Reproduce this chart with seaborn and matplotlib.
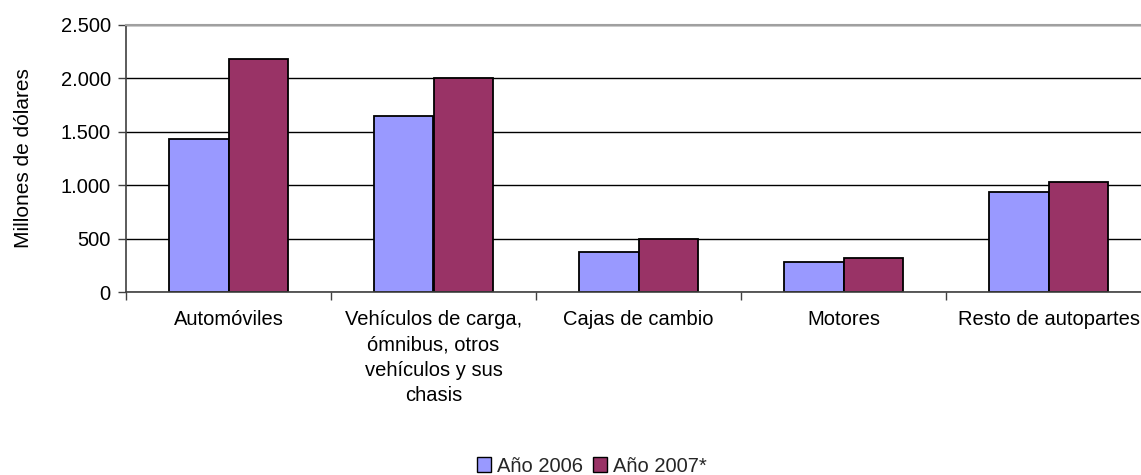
import matplotlib
matplotlib.use("Agg")
import matplotlib.pyplot as plt
import seaborn as sns
import pandas as pd
from matplotlib.ticker import FuncFormatter, FixedLocator
from matplotlib.patches import Patch

categories = ["Automóviles",
              "Vehículos de carga,\nómnibus, otros\nvehículos y sus\nchasis",
              "Cajas de cambio", "Motores", "Resto de autopartes"]
series_names = ["Año 2006", "Año 2007*"]
values_2006 = [1434, 1647, 375, 285, 940]
values_2007 = [2178, 2003, 498, 320, 1030]
colors = ["#9999FF", "#993366"]

df = pd.DataFrame({
    "cat": categories * 2,
    "serie": [series_names[0]] * 5 + [series_names[1]] * 5,
    "valor": values_2006 + values_2007,
})

sns.set_theme(style="white")
plt.rcParams["font.family"] = ["Liberation Sans", "DejaVu Sans"]

FS = 14.5

fig = plt.figure(figsize=(11.41, 4.75), dpi=100)
ax = fig.add_axes([126/1141, (475-292)/475, 1025/1141, 267/475])

sns.barplot(data=df, x="cat", y="valor", hue="serie", palette=colors,
            width=0.58, edgecolor="black", linewidth=1.3, ax=ax,
            legend=False, saturation=1, gap=0)

ax.set_ylim(0, 2500)
ax.set_xlim(-0.5, 4.5)
ax.set_yticks([0, 500, 1000, 1500, 2000, 2500])
ax.yaxis.set_major_formatter(FuncFormatter(lambda v, p: f"{int(v):,}".replace(",", ".")))
ax.yaxis.grid(True, color="black", linewidth=1.0)
ax.set_axisbelow(True)

ax.xaxis.set_minor_locator(FixedLocator([-0.5, 0.5, 1.5, 2.5, 3.5]))
ax.tick_params(axis="x", which="major", length=0, pad=13, labelsize=FS, colors="black")
ax.tick_params(axis="x", which="minor", length=6, width=1, color="#404040", bottom=True)
ax.tick_params(axis="y", which="major", length=6, width=1, color="#404040", left=True,
               labelsize=FS, pad=5, colors="black")
for lab in ax.get_xticklabels():
    lab.set_linespacing(1.42)

ax.set_xlabel("")
ax.set_ylabel("Millones de dólares", fontsize=FS + 0.5, labelpad=20, color="black")

for s in ["left", "bottom"]:
    ax.spines[s].set_visible(True)
    ax.spines[s].set_color("#404040")
    ax.spines[s].set_linewidth(1.2)
ax.spines["top"].set_visible(True)
ax.spines["top"].set_color("#A0A0A0")
ax.spines["top"].set_linewidth(1.5)
ax.spines["right"].set_visible(False)

handles = [Patch(facecolor=c, edgecolor="black", linewidth=1.0) for c in colors]
fig.legend(handles, series_names, loc="center", bbox_to_anchor=(592/1141, 1 - 466/475),
           ncol=2, frameon=False, fontsize=FS, handlelength=0.7, handleheight=0.7,
           handletextpad=0.3, columnspacing=0.5, borderpad=0)

fig.savefig("out.png", dpi=100)
